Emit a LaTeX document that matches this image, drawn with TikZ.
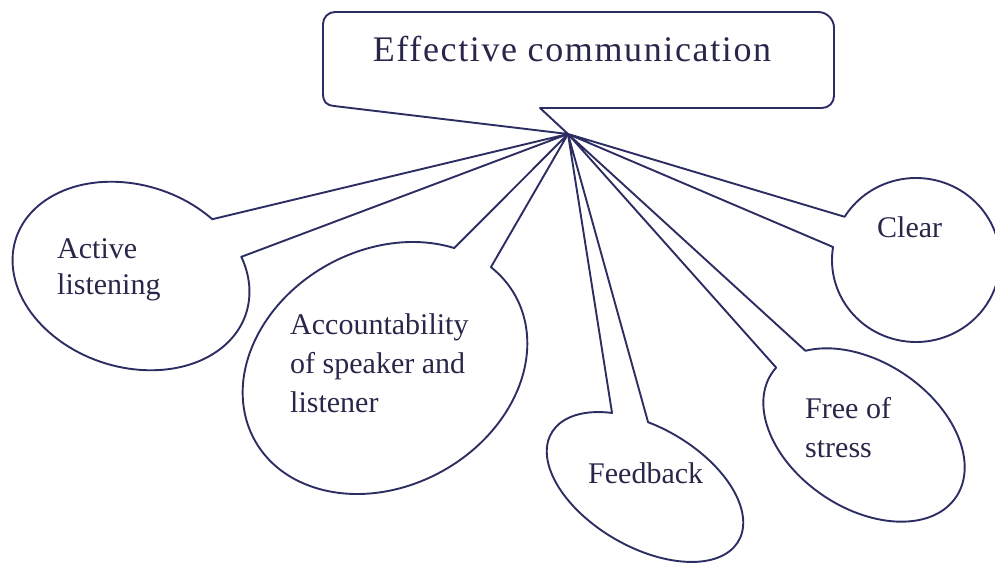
\documentclass[tikz,border=0pt]{standalone}
\usepackage{fontspec}
\setmainfont{Liberation Serif}
\newfontfamily\titlefont[LetterSpace=4.5]{Liberation Serif}
\definecolor{ink}{HTML}{2C2D62}
\definecolor{txt}{HTML}{28274A}
\begin{document}
\begin{tikzpicture}[x=1pt,y=1pt,
  outline/.style={draw=ink, line width=1.9pt, line join=round},
  lbl/.style={text=txt, inner sep=0pt, anchor=base west}]
\useasboundingbox (0,0) rectangle (995,563);
\clip (0,0) rectangle (995,563);
\coordinate (T) at (568,429);

% title callout
\draw[outline] (540,455) -- (822,455) arc[start angle=-90,end angle=0,radius=12]
  -- (834,535) arc[start angle=0,end angle=90,radius=16]
  -- (335,551) arc[start angle=90,end angle=180,radius=12]
  -- (323,470) .. controls (323,461) and (326,458) .. (334,457) -- (T) -- cycle;
\node[text=txt, font=\titlefont\fontsize{36}{42}\selectfont, anchor=base, inner sep=0pt] (title) at (572,501) {Effective communication};

% Active listening
\draw[outline, shift={(131,287)}, rotate=-18] (60.4:121pt and 91pt)
  arc[start angle=60.4, end angle=395.1, x radius=121pt, y radius=91pt] -- (T) -- cycle;
\node[lbl, font=\fontsize{30}{36}\selectfont] (active) at (57,305)
  {\begin{tabular}[t]{@{}l@{}}Active\\listening\end{tabular}};

% Accountability
\draw[outline, shift={(385,195)}, rotate=29] (37.2:149pt and 118pt)
  arc[start angle=37.2, end angle=378.2, x radius=149pt, y radius=118pt] -- (T) -- cycle;
\node[lbl, font=\fontsize{30}{39}\selectfont] (account) at (290,229)
  {\begin{tabular}[t]{@{}l@{}}Accountability\\of speaker and\\listener\end{tabular}};

% Feedback
\draw[outline, shift={(645,76)}, rotate=-30] (127.4:108pt and 60pt)
  arc[start angle=127.4, end angle=466, x radius=108pt, y radius=60pt] -- (T) -- cycle;
\node[lbl, font=\fontsize{30}{36}\selectfont] (feedback) at (588,80) {Feedback};

% Free of stress
\draw[outline, shift={(864,128)}, rotate=-34] (174.7:111pt and 73pt)
  arc[start angle=174.7, end angle=509.5, x radius=111pt, y radius=73pt] -- (T) -- cycle;
\node[lbl, font=\fontsize{30}{39}\selectfont] (free) at (805,145)
  {\begin{tabular}[t]{@{}l@{}}Free of\\stress\end{tabular}};

% Clear
\draw[outline, shift={(916,303)}] (170.9:84pt and 82pt)
  arc[start angle=170.9, end angle=508.2, x radius=84pt, y radius=82pt] -- (T) -- cycle;
\node[lbl, font=\fontsize{30}{36}\selectfont] (clear) at (877,326) {Clear};
\end{tikzpicture}
\end{document}
